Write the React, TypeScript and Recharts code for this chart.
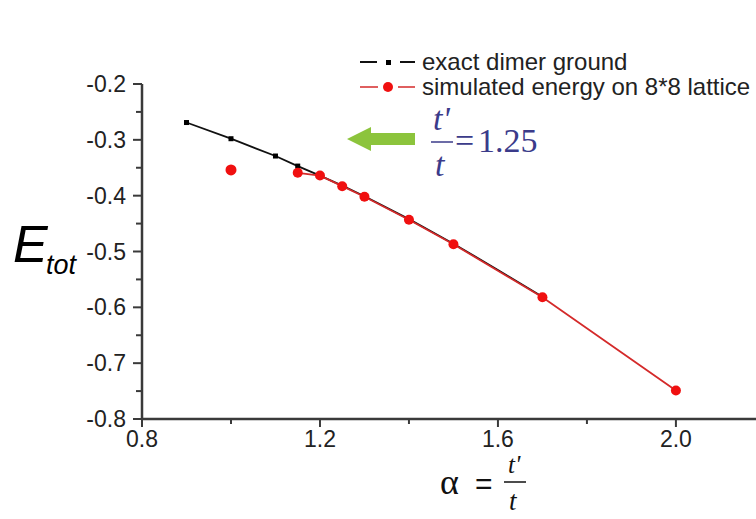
import React from 'react';
import { LineChart, Line, XAxis, YAxis, Legend } from 'recharts';

// exact dimer ground energy
const exactAlpha = [0.9, 1.0, 1.1, 1.15, 1.2, 1.25, 1.3, 1.4, 1.5, 1.6, 1.7];
const exactEnergy = [-0.269, -0.298, -0.329, -0.347, -0.364, -0.382, -0.401, -0.442, -0.486, -0.533, -0.581];

// simulated energy on 8*8 lattice
const simAlpha = [1.15, 1.2, 1.25, 1.3, 1.4, 1.5, 1.7, 2.0];
const simEnergy = [-0.359, -0.364, -0.383, -0.402, -0.443, -0.487, -0.582, -0.749];

// stray simulated point not joined to the curve
const loneAlpha = [1.0];
const loneEnergy = [-0.354];

const xTicks = [0.8, 1.0, 1.2, 1.4, 1.6, 1.8, 2.0];
const xMajor = ['0.8', '1.2', '1.6', '2.0'];
const yTicks = [-0.8, -0.75, -0.7, -0.65, -0.6, -0.55, -0.5, -0.45, -0.4, -0.35, -0.3, -0.25, -0.2];

const exactData = exactAlpha.map((a, i) => ({ a, e: exactEnergy[i] }));
const simData = simAlpha.map((a, i) => ({ a, e: simEnergy[i] }));
const loneData = loneAlpha.map((a, i) => ({ a, e: loneEnergy[i] }));

const AXIS = '#3a3a3a';
const LABEL = '#222';
const FONT = 'Arial, "Liberation Sans", sans-serif';
const SERIF = '"Liberation Serif", "DejaVu Serif", serif';

const XTick = (props: any) => {
  const { x, y, payload } = props;
  const label = payload.value.toFixed(1);
  const major = xMajor.includes(label);
  return (
    <g>
      <line x1={x} x2={x} y1={y} y2={y + (major ? 8 : 5)} stroke={AXIS} strokeWidth={2} />
      {major && (
        <text x={x} y={y + 28} textAnchor="middle" fontSize={23} fontFamily={FONT} fill={LABEL}>
          {label}
        </text>
      )}
    </g>
  );
};

const YTick = (props: any) => {
  const { x, y, payload } = props;
  const v = payload.value;
  const major = Math.abs(v * 10 - Math.round(v * 10)) < 1e-6;
  return (
    <g>
      <line x1={x - (major ? 9 : 6)} x2={x} y1={y} y2={y} stroke={AXIS} strokeWidth={2} />
      {major && (
        <text x={x - 16} y={y + 8} textAnchor="end" fontSize={23} fontFamily={FONT} fill={LABEL}>
          {v.toFixed(1)}
        </text>
      )}
    </g>
  );
};

const SquareDot = (props: any) => {
  const { cx, cy, index } = props;
  if (index > 3) return <g key={`sq${index}`} />;
  return <rect key={`sq${index}`} x={cx - 2.5} y={cy - 2.5} width={5} height={5} fill="#000" />;
};

const LegendBox = () => (
  <svg width={400} height={60} style={{ overflow: 'visible' }}>
    <g>
      <line x1={0} x2={17} y1={12} y2={12} stroke="#111" strokeWidth={2} />
      <rect x={26} y={10} width={5} height={5} fill="#000" />
      <line x1={40} x2={55} y1={12} y2={12} stroke="#111" strokeWidth={2} />
      <text x={62} y={20} fontSize={24} fontFamily={FONT} fill={LABEL}>exact dimer ground</text>
    </g>
    <g>
      <line x1={0} x2={18} y1={37} y2={37} stroke="#d42a2a" strokeWidth={1.5} />
      <circle cx={28} cy={37} r={5} fill="#f01010" />
      <line x1={38} x2={55} y1={37} y2={37} stroke="#d42a2a" strokeWidth={1.5} />
      <text x={62} y={45} fontSize={24} fontFamily={FONT} fill={LABEL}>simulated energy on 8*8 lattice</text>
    </g>
  </svg>
);

export default function App() {
  return (
    <div style={{ position: 'absolute', left: 0, top: 0, width: 756, height: 519, background: '#fff' }}>
      <LineChart width={756} height={519} margin={{ top: 20, right: 0, left: 0, bottom: 0 }}>
        <XAxis
          type="number"
          dataKey="a"
          domain={[0.8, 2.18]}
          ticks={xTicks}
          tick={<XTick />}
          tickLine={false}
          tickSize={0}
          tickMargin={0}
          height={100}
          axisLine={{ stroke: AXIS, strokeWidth: 2.5 }}
          allowDataOverflow
        />
        <YAxis
          type="number"
          dataKey="e"
          domain={[-0.8, -0.2]}
          ticks={yTicks}
          tick={<YTick />}
          tickLine={false}
          tickSize={0}
          tickMargin={0}
          width={142}
          axisLine={{ stroke: AXIS, strokeWidth: 2.5 }}
          interval={0}
        />
        <Legend
          verticalAlign="top"
          align="left"
          content={<LegendBox />}
          wrapperStyle={{ left: 360, top: 50, width: 400 }}
        />
        <Line
          data={exactData}
          dataKey="e"
          stroke="#111"
          strokeWidth={1.8}
          dot={<SquareDot />}
          isAnimationActive={false}
          legendType="none"
        />
        <Line
          data={simData}
          dataKey="e"
          stroke="#d42a2a"
          strokeWidth={1.8}
          dot={{ r: 5, fill: '#f01010', stroke: 'none' }}
          isAnimationActive={false}
          legendType="none"
        />
        <Line
          data={loneData}
          dataKey="e"
          stroke="none"
          dot={{ r: 5.5, fill: '#f01010', stroke: 'none' }}
          isAnimationActive={false}
          legendType="none"
        />
      </LineChart>

      <svg width={756} height={519} style={{ position: 'absolute', left: 0, top: 0, pointerEvents: 'none' }}>
        {/* arrow pointing at t'/t = 1.25 */}
        <polygon points="347,139 371,127 371,133 415,133 415,145 371,145 371,151" fill="#8cc43c" />
        <g fontFamily={SERIF} fill="#3b3b8a" fontStyle="italic">
          <text x={433} y={130} fontSize={34}>t'</text>
          <text x={435} y={176} fontSize={34}>t</text>
        </g>
        <line x1={431} x2={453} y1={142} y2={142} stroke="#3b3b8a" strokeWidth={1.5} />
        <text x={455} y={152} fontSize={34} fontFamily={SERIF} fill="#3b3b8a">=</text>
        <text x={478} y={152} fontSize={34} fontFamily={SERIF} fill="#3b3b8a">1.25</text>

        {/* y axis title */}
        <text x={13} y={262} fontSize={52} fontStyle="italic" fontFamily={FONT} fill="#000">E</text>
        <text x={46} y={274} fontSize={27} fontStyle="italic" fontFamily={FONT} fill="#000">tot</text>

        {/* x axis title */}
        <text x={440} y={494} fontSize={36} fontFamily={SERIF} fill="#111">α</text>
        <text x={475} y={494} fontSize={30} fontFamily={FONT} fill="#111">=</text>
        <text x={508} y={473} fontSize={25} fontStyle="italic" fontFamily={SERIF} fill="#111">t'</text>
        <line x1={504} x2={526} y1={482} y2={482} stroke="#111" strokeWidth={1.5} />
        <text x={509} y={510} fontSize={27} fontStyle="italic" fontFamily={SERIF} fill="#111">t</text>
      </svg>
    </div>
  );
}
